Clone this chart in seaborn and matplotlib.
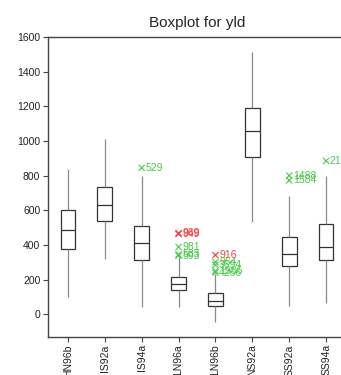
import numpy as np
import pandas as pd
import matplotlib
matplotlib.use("Agg")
import matplotlib.pyplot as plt
import seaborn as sns

# ---- data ----
groups = ["HN96b", "IS92a", "IS94a", "LN96a", "LN96b", "NS92a", "SS92a", "SS94a"]
whisk_low = [100, 320, 40, 40, -45, 530, 45, 65]
q1 = [378, 540, 315, 138, 45, 910, 278, 310]
median = [487, 632, 410, 172, 78, 1060, 350, 390]
q3 = [600, 735, 510, 215, 120, 1190, 445, 520]
whisk_high = [840, 1010, 795, 330, 230, 1515, 685, 795]

out_group = ["IS94a", "LN96a", "LN96a", "LN96a", "LN96a", "LN96a",
             "LN96b", "LN96b", "LN96b", "LN96b", "LN96b",
             "SS92a", "SS92a", "SS94a"]
out_value = [845, 468, 463, 388, 345, 338,
             341, 300, 285, 250, 240,
             800, 772, 885]
out_label = ["529", "969", "949", "981", "583", "593",
             "916", "964", "3694", "1986", "4266",
             "1488", "1584", "2130"]
out_kind = ["g", "r", "r", "g", "g", "g",
            "r", "g", "g", "g", "g",
            "g", "g", "g"]

yticks = [0, 200, 400, 600, 800, 1000, 1200, 1400, 1600]

# ---- build long-form data: 5 points per group give the exact box ----
rows = []
for g, a, b, c, d, e in zip(groups, whisk_low, q1, median, q3, whisk_high):
    for v in (a, b, c, d, e):
        rows.append({"group": g, "yld": v})
df = pd.DataFrame(rows)
odf = pd.DataFrame({"group": out_group, "yld": out_value,
                    "label": out_label, "kind": out_kind})

sns.set_style("white")
plt.rcParams["font.family"] = ["Liberation Sans", "DejaVu Sans"]

fig = plt.figure(figsize=(3.41, 3.75), dpi=100)
ax = fig.add_axes([48 / 341, 38.3 / 375, 298 / 341, 299.7 / 375])

sns.boxplot(data=df, x="group", y="yld", order=groups, whis=(0, 100),
            width=0.4, color="white", linecolor="#333333", linewidth=0.9,
            showcaps=False, fliersize=0, ax=ax,
            whiskerprops={"color": "#8a8a8a", "linewidth": 0.9},
            boxprops={"facecolor": "white", "edgecolor": "#333333"},
            medianprops={"color": "#333333", "linewidth": 0.9})

pal = {"g": "#47cc47", "r": "#ff3b3b"}
sns.scatterplot(data=odf, x="group", y="yld", hue="kind", palette=pal,
                marker="x", s=20, linewidth=0.8, legend=False, ax=ax)

pos = {g: i for i, g in enumerate(groups)}
for g, v, lab, k in zip(out_group, out_value, out_label, out_kind):
    ax.text(pos[g] + 0.1, v, lab, color=pal[k], fontsize=7.5,
            va="center", ha="left", clip_on=False)

ax.set_xlim(-0.54, 7.54)
ax.set_ylim(-130, 1600)
ax.set_yticks(yticks)
ax.set_yticklabels([str(t) for t in yticks], fontsize=7.5)
ax.set_xticks(range(len(groups)))
ax.set_xticklabels(groups, rotation=90, fontsize=7.5, va="top")
ax.set_xlabel("")
ax.set_ylabel("")
ax.set_title("Boxplot for yld", fontsize=11, pad=7)

for s in ax.spines.values():
    s.set_color("#444444")
    s.set_linewidth(1.0)
ax.tick_params(axis="both", direction="out", length=3.5, width=0.8,
               color="#444444", labelcolor="#222222", pad=2,
               left=True, bottom=True)

fig.savefig("out.png", dpi=100)
